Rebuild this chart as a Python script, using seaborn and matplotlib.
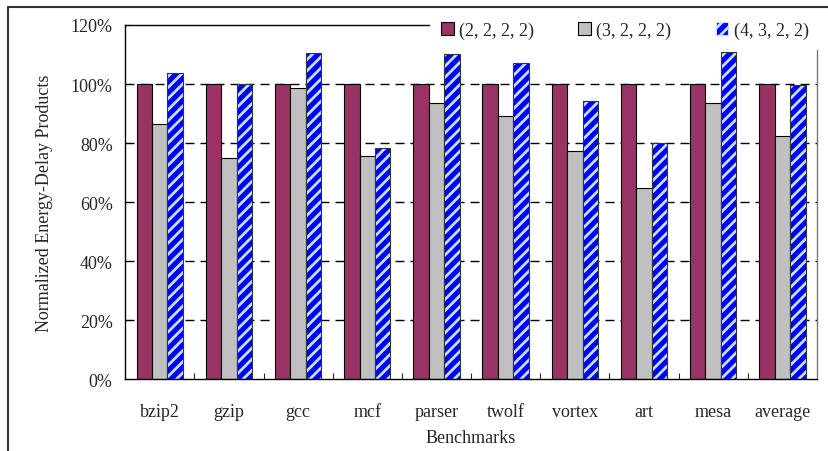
import pandas as pd
import seaborn as sns
import matplotlib.pyplot as plt
from matplotlib.patches import Patch, Rectangle
from matplotlib.lines import Line2D
from matplotlib.ticker import FuncFormatter, FixedLocator

# 벤치마크별 정규화된 에너지-지연 곱 (%)
benchmarks = ['bzip2', 'gzip', 'gcc', 'mcf', 'parser', 'twolf', 'vortex', 'art', 'mesa', 'average']
configs = ['(2, 2, 2, 2)', '(3, 2, 2, 2)', '(4, 3, 2, 2)']
edp_2222 = [100, 100, 100, 100, 100, 100, 100, 100, 100, 100]
edp_3222 = [86.5, 75.0, 98.5, 75.6, 93.7, 89.1, 77.4, 64.6, 93.4, 82.4]
edp_4322 = [103.9, 100.0, 110.5, 78.4, 110.2, 107.0, 94.1, 80.1, 110.9, 99.7]

colors = ['#993366', '#C0C0C0', '#0000FF']
hatchColor = '#c4e2ff'

rows = []
for cfg, vals in zip(configs, [edp_2222, edp_3222, edp_4322]):
    for b, v in zip(benchmarks, vals):
        rows.append({'benchmark': b, 'config': cfg, 'edp': v})
df = pd.DataFrame(rows)

sns.set_style('white')
plt.rcParams['font.family'] = ['Liberation Serif', 'DejaVu Serif']
plt.rcParams['hatch.linewidth'] = 2.0
fs = 13

fig = plt.figure(figsize=(8.29, 4.52), dpi=100)
ax = fig.add_axes([0.151, 0.159, 0.8345, 0.7835])

sns.barplot(data=df, x='benchmark', y='edp', hue='config', palette=colors,
            saturation=1, width=0.67, edgecolor='black', linewidth=0.8,
            legend=False, ax=ax, zorder=2)

# 세 번째 시리즈: 파란색 빗금 막대
for bar in ax.containers[2]:
    bar.set_hatch('///')
    bar.set_edgecolor(hatchColor)
    bar.set_linewidth(0)
    ax.add_patch(Rectangle((bar.get_x(), bar.get_y()), bar.get_width(), bar.get_height(),
                           fill=False, edgecolor='#333333', linewidth=0.8, zorder=3))

ax.set_ylim(0, 120)
ax.set_xlim(-0.5, len(benchmarks) - 0.5)
ax.set_yticks(range(0, 121, 20))
ax.yaxis.set_major_formatter(FuncFormatter(lambda v, p: f"{v:.0f}%"))

# 점선 격자
for yv in range(20, 101, 20):
    ax.axhline(yv, color='black', linewidth=1, linestyle=(0, (6.5, 4.3)), zorder=1)

ax.xaxis.set_minor_locator(FixedLocator([i + 0.5 for i in range(len(benchmarks) - 1)]))
ax.tick_params(axis='x', which='major', length=0, pad=17, labelsize=fs)
ax.tick_params(axis='x', which='minor', direction='in', length=4, width=0.8, bottom=True)
ax.tick_params(axis='y', direction='in', length=4, width=0.8, left=True, pad=9, labelsize=fs)

for side in ['left', 'bottom', 'top']:
    ax.spines[side].set_color('black')
    ax.spines[side].set_linewidth(1.0)
ax.spines['right'].set_color('#777777')
ax.spines['right'].set_linewidth(1.0)

ax.set_xlabel('Benchmarks', fontsize=fs)
ax.set_ylabel('Normalized Energy-Delay Products', fontsize=fs)
ax.xaxis.set_label_coords(0.5, -0.14)
ax.yaxis.set_label_coords(-0.104, 0.5)

# 범례
handles = [
    Patch(facecolor=colors[0], edgecolor='black', linewidth=0.8),
    Patch(facecolor=colors[1], edgecolor='black', linewidth=0.8),
    Patch(facecolor=colors[2], edgecolor=hatchColor, hatch='///', linewidth=0.8),
]
leg = fig.legend(handles, configs, loc='center left', bbox_to_anchor=(0.508, 0.931),
                 ncol=3, fontsize=fs, frameon=True, fancybox=False, facecolor='white',
                 edgecolor='none', framealpha=1, handlelength=0.7, handleheight=0.7,
                 handletextpad=0.3, columnspacing=2.45, borderpad=0.6)

# 바깥 테두리
fig.add_artist(Line2D([8.5 / 829, 1.0], [1 - 7.5 / 452] * 2, color='#333333', linewidth=1.5,
                      transform=fig.transFigure))
fig.add_artist(Line2D([8.5 / 829] * 2, [0.0, 1 - 7.5 / 452], color='#333333', linewidth=1.5,
                      transform=fig.transFigure))

fig.savefig('out.png', dpi=100)
plt.close(fig)
